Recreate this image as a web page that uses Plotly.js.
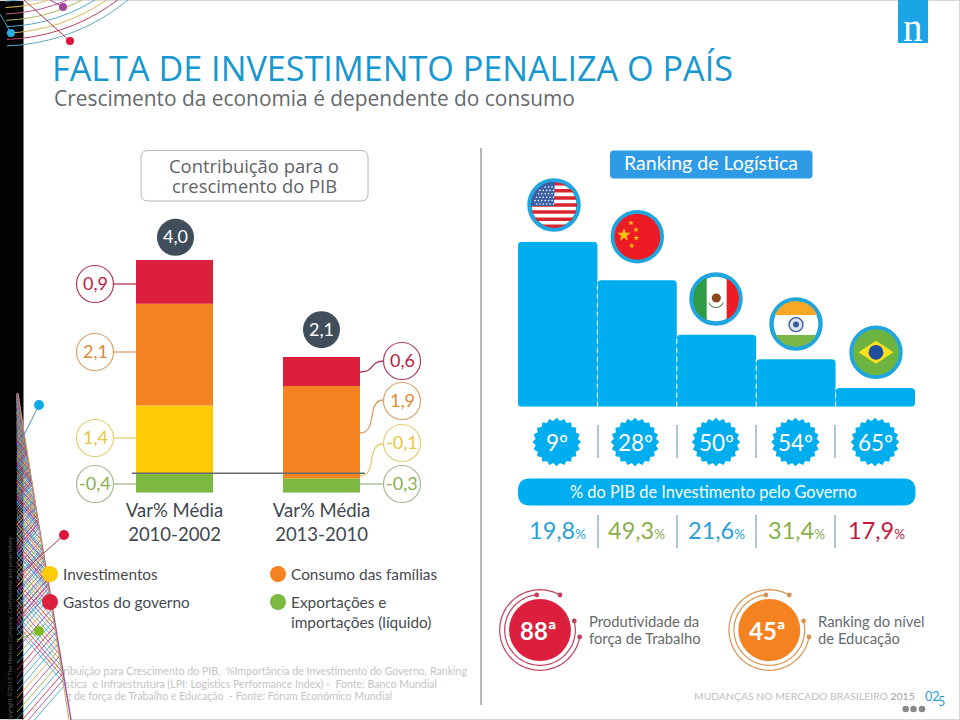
<!DOCTYPE html>
<html lang="pt">
<head>
<meta charset="utf-8">
<title>Falta de investimento penaliza o país</title>
<script src="https://cdn.plot.ly/plotly-3.0.1.min.js"></script>
<style>html,body{margin:0;padding:0;background:#fff}#chart{width:960px;height:720px}</style>
</head>
<body>
<div id="chart"></div>
<script>
// ---------- data ----------
const periods = ['Var% Média<br>2010-2002', 'Var% Média<br>2013-2010'];
const investimentos = [1.4, -0.1];
const consumo = [2.1, 1.9];
const governo = [0.9, 0.6];
const exportacoes = [-0.4, -0.3];
const totais = [4.0, 2.1];
const rankingHeights = [165, 126.4, 72, 47.4, 18.7];
const rankingLabels = ['9º', '28º', '50º', '54º', '65º'];
const investGoverno = [19.8, 49.3, 21.6, 31.4, 17.9];
const footnotes = [
  'Contribuição para Crescimento do PIB,  %Importância de Investimento do Governo, Ranking',
  'de Logística  e Infraestrutura (LPI: Logistics Performance Index) -  Fonte: Banco Mundial',
  'Ranking de força de Trabalho e Educação  - Fonte: Fórum Econômico Mundial'
];

// ---------- styling ----------
const BODY = 'Lato, Carlito, sans-serif', HEAD = '"Open Sans", sans-serif';
const RED = '#DB1F3D', ORANGE = '#F58220', YELLOW = '#FFCB05', GREEN = '#7DB843', BLUE = '#00ADEF';
const fmt = v => v.toFixed(1).replace('.', ',');

// ---------- helpers in page pixels (overlay axes x3/y3) ----------
const shapes = [], annotations = [];
const base = {xref: 'x3', yref: 'y3'};
function rect(x0, y0, x1, y1, fill) { shapes.push({...base, type: 'rect', x0, y0, x1, y1, fillcolor: fill, line: {width: 0}}); }
function circ(cx, cy, r, fill, stroke, w) {
  shapes.push({...base, type: 'circle', x0: cx - r, y0: cy - r, x1: cx + r, y1: cy + r,
    fillcolor: fill || 'rgba(0,0,0,0)', line: {color: stroke || 'rgba(0,0,0,0)', width: stroke ? (w || 1) : 0}});
}
function path(d, fill, stroke, w, extra) {
  shapes.push({...base, type: 'path', path: d, fillcolor: fill || 'rgba(0,0,0,0)',
    line: {color: stroke || 'rgba(0,0,0,0)', width: stroke ? (w || 1) : 0}, ...(extra || {})});
}
function line(x0, y0, x1, y1, c, w, extra) {
  shapes.push({...base, type: 'line', x0, y0, x1, y1, line: {color: c, width: w || 1, ...(extra || {})}});
}
function rrect(x0, y0, x1, y1, r) {
  return `M${x0 + r},${y0}L${x1 - r},${y0}Q${x1},${y0} ${x1},${y0 + r}L${x1},${y1 - r}Q${x1},${y1} ${x1 - r},${y1}L${x0 + r},${y1}Q${x0},${y1} ${x0},${y1 - r}L${x0},${y0 + r}Q${x0},${y0} ${x0 + r},${y0}Z`;
}
function txt(x, y, text, size, color, o) {
  o = o || {};
  annotations.push({xref: 'x3', yref: 'y3', x, y, text, showarrow: false, xanchor: o.anchor || 'center', yanchor: 'middle',
    align: o.anchor === 'left' ? 'left' : 'center', borderpad: 0, textangle: o.angle || 0,
    font: {family: o.family || BODY, size, color, weight: o.weight || 400}});
}
function arc(cx, cy, r, a0, a1) {
  let d = '';
  for (let a = a0; a <= a1; a += 4) {
    const t = a * Math.PI / 180;
    d += (d ? 'L' : 'M') + (cx + r * Math.cos(t)).toFixed(1) + ',' + (cy + r * Math.sin(t)).toFixed(1);
  }
  return d;
}
function star(cx, cy, R, r, n, rot) {
  let d = '';
  for (let i = 0; i < 2 * n; i++) {
    const t = (rot || -90) * Math.PI / 180 + i * Math.PI / n, q = i % 2 ? r : R;
    d += (d ? 'L' : 'M') + (cx + q * Math.cos(t)).toFixed(1) + ',' + (cy + q * Math.sin(t)).toFixed(1);
  }
  return d + 'Z';
}
function hband(cx, cy, r, y0, y1) {
  const pts = [], st = 1.5;
  for (let y = y0; y <= y1; y += st) pts.push([cx + Math.sqrt(Math.max(0, r * r - (y - cy) ** 2)), y]);
  pts.push([cx + Math.sqrt(Math.max(0, r * r - (y1 - cy) ** 2)), y1]);
  for (let y = y1; y >= y0; y -= st) pts.push([cx - Math.sqrt(Math.max(0, r * r - (y - cy) ** 2)), y]);
  pts.push([cx - Math.sqrt(Math.max(0, r * r - (y0 - cy) ** 2)), y0]);
  return 'M' + pts.map(p => p[0].toFixed(1) + ',' + p[1].toFixed(1)).join('L') + 'Z';
}
function vband(cx, cy, r, x0, x1) {
  const pts = [], st = 1.5;
  for (let x = x0; x <= x1; x += st) pts.push([x, cy - Math.sqrt(Math.max(0, r * r - (x - cx) ** 2))]);
  pts.push([x1, cy - Math.sqrt(Math.max(0, r * r - (x1 - cx) ** 2))]);
  for (let x = x1; x >= x0; x -= st) pts.push([x, cy + Math.sqrt(Math.max(0, r * r - (x - cx) ** 2))]);
  pts.push([x0, cy + Math.sqrt(Math.max(0, r * r - (x0 - cx) ** 2))]);
  return 'M' + pts.map(p => p[0].toFixed(1) + ',' + p[1].toFixed(1)).join('L') + 'Z';
}

// ---------- slide frame and decoration ----------
rect(0, 0, 23.5, 720, '#030304');
line(0, 0.5, 960, 0.5, '#d9d9d9', 1);
line(959.5, 0, 959.5, 720, '#d9d9d9', 1);
line(0, 719.5, 960, 719.5, '#d9d9d9', 1);

// top-left arcs
const arcColours = ['#5FA8BE', '#B9405C', '#D8B85A', '#58A6C4', '#A8B85C', '#B65A8E', '#E0C45A', '#5FA8BE'];
arcColours.forEach((c, i) => { path(arc(0, -155, 201 - i * 6.4, 0, 90), null, c, 1); });
line(24, 0, 70, 41, '#A83A55', 1);
circ(70, 41, 4, '#DD1438');
line(50, 0, 63, 7, '#A0449A', 1);
circ(63, 7, 4, '#A0449A');
line(0, 14, 11, 33, '#3A9BC8', 1);
circ(11, 33, 4, '#2BA9E1');

// bottom-left net: zigzags bouncing between the strip and a slanted edge
path('M23.5,428L71,720L23.5,720Z', 'rgba(255,255,255,0.9)');
const slant = 54 / 327, climb = 1.15;
const netColours = ['#3F9FD0', '#A0449A', '#D5264A', '#3F9FD0', '#8DB63C', '#A0449A', '#E39A3C', '#3F9FD0'];
for (let p = 0; p < 24; p++) {
  let y = 740 - p * 7, x = 17, d = `M${x},${y}`, guard = 0, toRight = true;
  while (y > 395 && guard++ < 150) {
    if (toRight) {
      const xx = (17 + slant * (y + climb * x - 393)) / (1 + slant * climb);
      y -= climb * (xx - x); x = xx;
    } else {
      y -= climb * (x - 17); x = 17;
    }
    toRight = !toRight;
    d += `L${x.toFixed(1)},${Math.max(y, 393).toFixed(1)}`;
  }
  path(d, null, netColours[p % netColours.length], 1, {opacity: 0.85});
}
line(17, 393, 71, 720, '#A0559A', 1.4);
line(18, 393, 69, 720, '#C7A85A', 1);
line(39, 405, 23, 437, '#4C8FB5', 1);
circ(39, 405, 5, '#0FA9E6');
line(64, 535, 17, 577, '#A83A55', 1);
circ(64, 535, 5, '#DD1438');
line(39, 631, 17, 640, '#86B035', 1);
circ(39, 631, 5, '#80BC1E');
txt(9, 630, 'Copyright ©2013 The Nielsen Company. Confidential and proprietary.', 6.2, '#5a5a5a', {angle: -90});

// logo
rect(898, 0, 928, 43, '#1BA4E6');
txt(913, 27, 'n', 39, '#ffffff', {family: '"Liberation Serif", serif'});

// titles
txt(51, 67.5, 'FALTA DE INVESTIMENTO PENALIZA O PAÍS', 34.2, '#1797CF', {anchor: 'left', family: HEAD});
txt(52.5, 98, 'Crescimento da economia é dependente do consumo', 20.9, '#666a6e', {anchor: 'left', family: HEAD});

// ---------- left panel ----------
path(rrect(141, 150.5, 368, 201, 7), '#ffffff', '#b8b8b8', 1);
txt(254, 165, 'Contribuição para o', 18.4, '#5f6368', {family: HEAD});
txt(254, 185, 'crescimento do PIB', 18.4, '#5f6368', {family: HEAD});

[[175.5, 237.3, totais[0]], [321.5, 329.7, totais[1]]].forEach(t => {
  circ(t[0], t[1], 18.5, '#3F4E5A');
  txt(t[0], t[1] - 1, fmt(t[2]), 18, '#ffffff');
});

const callouts = [
  [95, 284, governo[0], '#B5374F', '#C2183F', 'M113.5,284L136,284'],
  [95, 352, consumo[0], '#D9A06A', '#DF8A35', 'M113.5,352L136,352'],
  [95, 438, investimentos[0], '#E2CE73', '#E8C63C', 'M113.5,438L136,438'],
  [95, 484, exportacoes[0], '#A5B88D', '#8AB04E', 'M113.5,484L136,484'],
  [402, 361, governo[1], '#A83F6A', '#C2183F', 'M360,372C375,372 370,361 383.5,361'],
  [402, 401, consumo[1], '#D9A06A', '#DF8A35', 'M360,433C378,433 366,400 383.5,400'],
  [402, 443, investimentos[1], '#E2CE73', '#E8C63C', 'M360,476C378,476 365,444 383.5,444'],
  [402, 484, exportacoes[1], '#A5B88D', '#8AB04E', 'M360,484L383.5,484']
];
callouts.forEach(c => {
  path(c[5], null, c[3], 1.3);
  circ(c[0], c[1], 18.5, '#ffffff', c[3], 1.2);
  txt(c[0], c[1] - 1, fmt(c[2]), 18, c[4]);
});

// legend
[[50, 574, YELLOW, 'Investimentos'], [50, 602, RED, 'Gastos do governo'],
 [278, 574, ORANGE, 'Consumo das famílias'], [278, 602, GREEN, 'Exportações e']].forEach(l => {
  circ(l[0], l[1], 8, l[2]);
  txt(l[0] + 11.5, l[1] - 0.5, l[3], 15.4, '#464b50', {anchor: 'left'});
});
txt(289.5, 622, 'importações (líquido)', 15.4, '#464b50', {anchor: 'left'});

line(481, 148, 481, 705, '#a3a3a3', 1.6);

// ---------- right panel ----------
path(rrect(610, 150.5, 812.5, 178.5, 4), '#2E9BE6');
txt(711, 162.5, 'Ranking de Logística', 19.5, '#ffffff');

rankingHeights.slice(1).forEach((h, i) => {
  shapes.push({type: 'line', xref: 'x2', yref: 'y2', x0: i + 0.5, x1: i + 0.5, y0: 0, y1: h,
    line: {color: '#ffffff', width: 1, dash: '5px,4px'}});
});
path('M518,406.9L522,406.9Q518,406.9 518,402.9Z', '#ffffff');
path('M915,406.9L911,406.9Q915,406.9 915,402.9Z', '#ffffff');

// flags
const flagC = [[554, 205], [637.3, 236.7], [716, 299], [796, 324], [876, 352.3]];
const RI = 23;
flagC.forEach(c => circ(c[0], c[1], RI + 1.5, '#ffffff', '#1FA6DF', 4.5));
{ // USA
  const [cx, cy] = flagC[0];
  for (let i = 0; i < 13; i += 2) {
    const y0 = cy - RI + i * (2 * RI / 13);
    path(hband(cx, cy, RI, y0, y0 + 2 * RI / 13), '#D9252F');
  }
  path(`M${cx},${cy + 1}L${cx - RI},${cy + 1}` + arc(cx, cy, RI, 180, 272).replace('M', 'L') + 'Z', '#3A5FA5');
  for (let r = 0; r < 6; r++) for (let k = 0; k < 6; k++) {
    const x = cx - 19 + k * 3.4 + (r % 2) * 1.5, y = cy - 18 + r * 3.4;
    if ((x - cx) ** 2 + (y - cy) ** 2 < (RI - 2) ** 2) circ(x, y, 0.8, '#ffffff');
  }
}
{ // China
  const [cx, cy] = flagC[1];
  circ(cx, cy, RI, '#ED1C24');
  path(star(624, 235, 7, 2.8, 5), '#FFC20E');
  [[631, 223], [636, 229.7], [636.3, 238], [631.7, 245.7]].forEach(s => path(star(s[0], s[1], 2.9, 1.2, 5), '#FFC20E'));
}
{ // Mexico
  const [cx, cy] = flagC[2];
  path(vband(cx, cy, RI, cx - RI, cx - 9.3), '#2E9B47');
  path(vband(cx, cy, RI, cx + 10.7, cx + RI), '#ED1C24');
  path(arc(cx, cy + 1, 7.5, 20, 160), null, '#5E8C5A', 1.2);
  circ(cx + 0.3, cy - 1, 4.6, '#8A4A1E');
}
{ // India
  const [cx, cy] = flagC[3];
  path(hband(cx, cy, RI, cy - RI, cy - 9), '#F9A825');
  path(hband(cx, cy, RI, cy + 11, cy + RI), '#7AB648');
  circ(cx, cy + 0.6, 7, '#DDE6F0', '#3C5A9A', 1.4);
  circ(cx, cy + 0.6, 3, '#3C5A9A');
}
{ // Brazil
  const [cx, cy] = flagC[4];
  circ(cx, cy, RI, '#6CB33F');
  path(`M${cx - 17.5},${cy}L${cx},${cy - 11.5}L${cx + 17.5},${cy}L${cx},${cy + 11.5}Z`, '#FFE01B');
  circ(cx, cy, 7.4, '#1F4E9E');
}

// rank badges
const badgeX = [556.7, 635, 716, 795.5, 875];
rankingLabels.forEach((t, i) => {
  path(star(badgeX[i], 442, 24.3, 21.3, 20), BLUE);
  txt(badgeX[i], 442.5, t, 22.5, '#ffffff');
});
[598, 677, 756, 835].forEach(x => {
  line(x, 425, x, 458, '#8FB4C9', 1.5);
  line(x, 515, x, 548, '#8FB4C9', 1.5);
});

path(rrect(518, 478.5, 915.5, 505.5, 12), BLUE);
txt(713, 491, '% do PIB de Investimento pelo Governo', 16.4, '#ffffff');

const pctColours = ['#2A9FD6', '#8AB04E', '#2A9FD6', '#8AB04E', '#C8173F'];
const pctX = [557, 636, 716, 796, 876];
investGoverno.forEach((v, i) => {
  txt(pctX[i], 530, `${fmt(v)}<span style="font-size:13.5px">%</span>`, 23.5, pctColours[i]);
});

// circular badges
function badge(cx, fill, stroke, label) {
  circ(cx, 630, 31, fill);
  path(arc(cx, 630, 40.3, 10, 300), null, stroke, 1.2);
  path(arc(cx, 630, 35.3, 345, 625), null, stroke, 1.2);
  [[-3.3, -35], [20, -35], [34.3, -9], [39.7, 7]].forEach(o => circ(cx + o[0], 630 + o[1], 2.4, stroke));
  txt(cx - 2, 630, label, 24, '#ffffff', {weight: 700});
}
badge(540, RED, '#C0405A', '88ª');
badge(769.3, ORANGE, '#DB9450', '45ª');
txt(587.5, 621, 'Produtividade da', 14.8, '#666a6e', {anchor: 'left'});
txt(587.5, 638, 'força de Trabalho', 14.8, '#666a6e', {anchor: 'left'});
txt(817, 621, 'Ranking do nível', 14.8, '#666a6e', {anchor: 'left'});
txt(817, 638, 'de Educação', 14.8, '#666a6e', {anchor: 'left'});

// footer
txt(693, 696, 'MUDANÇAS NO MERCADO BRASILEIRO <span style="color:#a0a0a0">2015</span>', 10.4, '#c0c0c0', {anchor: 'left'});
txt(923.5, 696, '02', 12.5, '#2A9FD6', {anchor: 'left'});
txt(937, 701, '5', 12.5, '#2A9FD6', {anchor: 'left'});
[905.7, 913.5, 922].forEach(x => circ(x, 709, 3.3, '#8a8a8a'));

// ---------- traces ----------
const xi = [0, 1];
const neg = v => Math.min(v, 0);
function stackTrace(name, heights, bases, colour) {
  return {type: 'bar', name, x: xi, y: heights, base: bases, width: 0.524, xaxis: 'x', yaxis: 'y',
    marker: {color: colour, line: {width: 0}}, hoverinfo: 'skip'};
}
const data = [
  stackTrace('Exportações e importações (líquido)', exportacoes.map(Math.abs), exportacoes.map((v, i) => neg(investimentos[i]) + v), '#7DB843'),
  stackTrace('Investimentos', investimentos.map(Math.abs), investimentos.map(neg), YELLOW),
  stackTrace('Consumo das famílias', consumo, investimentos, '#F58220'),
  stackTrace('Gastos do governo', governo, investimentos.map((v, i) => v + consumo[i]), '#DB1F3D'),
  {type: 'bar', name: 'Ranking de Logística', x: [0, 1, 2, 3, 4], y: rankingHeights, width: 1, xaxis: 'x2', yaxis: 'y2',
    marker: {color: BLUE, cornerradius: 4, line: {width: 0}}, hoverinfo: 'skip'},
  {type: 'scatter', mode: 'text', x: [467, 437, 392], y: [672.5, 685, 697], text: footnotes, textposition: 'middle left',
    textfont: {family: BODY, size: 10.6, color: '#c4c4c4'}, xaxis: 'x3', yaxis: 'y3', cliponaxis: false, hoverinfo: 'skip'}
];

shapes.push({type: 'line', xref: 'x3', yref: 'y', x0: 132, x1: 365, y0: 0, y1: 0, line: {color: '#666a6e', width: 1.6}});

const H = 720;
const layout = {
  width: 960, height: 720, margin: {l: 0, r: 0, t: 0, b: 0, pad: 0},
  paper_bgcolor: '#ffffff', plot_bgcolor: 'rgba(0,0,0,0)', showlegend: false, barmode: 'overlay',
  xaxis: {domain: [100 / 960, 400 / 960], range: [-0.507, 1.534], anchor: 'y', tickmode: 'array', tickvals: xi, ticktext: periods,
    showgrid: false, zeroline: false, showline: false, ticks: '', fixedrange: true, ticklabelstandoff: 5,
    tickfont: {family: BODY, size: 18.5, color: '#40474F'}},
  yaxis: {domain: [1 - 492.7 / H, 1 - 260 / H], range: [-0.4, 4.4], anchor: 'x', visible: false, fixedrange: true},
  xaxis2: {domain: [518 / 960, 915 / 960], range: [-0.5, 4.5], anchor: 'y2', visible: false, fixedrange: true},
  yaxis2: {domain: [1 - 406.7 / H, 1 - 241.7 / H], range: [0, 165], anchor: 'x2', visible: false, fixedrange: true},
  xaxis3: {domain: [0, 1], range: [0, 960], anchor: 'y3', visible: false, fixedrange: true},
  yaxis3: {domain: [0, 1], range: [720, 0], anchor: 'x3', visible: false, fixedrange: true},
  shapes, annotations
};
Plotly.newPlot('chart', data, layout, {displayModeBar: false, staticPlot: true});
</script>
</body>
</html>
